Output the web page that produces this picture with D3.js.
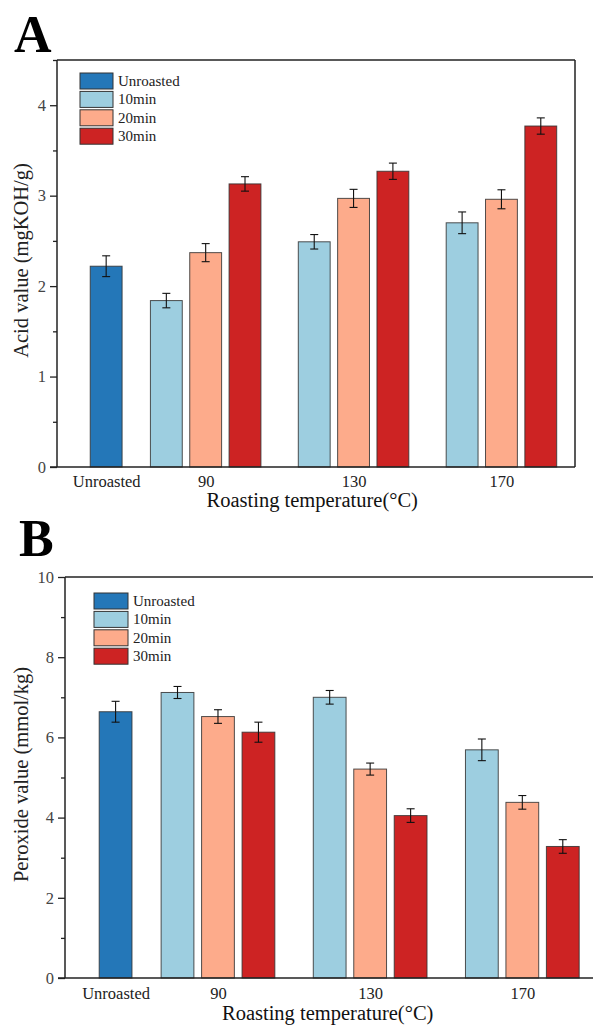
<!DOCTYPE html>
<html>
<head>
<meta charset="utf-8">
<script src="https://cdn.jsdelivr.net/npm/d3@7"></script>
<style>
  body { margin: 0; background: #fff; }
  svg { display: block; font-family: "Liberation Serif", "Times New Roman", serif; }
</style>
</head>
<body>
<div id="chart"></div>
<script>
// categories
const temps = ["90", "130", "170"];
const times = ["10min", "20min", "30min"];
const legendLabels = ["Unroasted", "10min", "20min", "30min"];
const colors = ["#2477b8", "#9dcee0", "#fdab8b", "#cd2323"];

// panel A - acid value, rows = temps, cols = times
const acidUnroasted = [2.22, 0.115];
const acidMeans = [[1.84, 2.37, 3.13], [2.49, 2.97, 3.27], [2.70, 2.96, 3.77]];
const acidErrs = [[0.08, 0.10, 0.08], [0.08, 0.10, 0.09], [0.12, 0.105, 0.09]];
const acidTicks = [0, 1, 2, 3, 4];

// panel B - peroxide value
const peroxUnroasted = [6.64, 0.26];
const peroxMeans = [[7.12, 6.52, 6.13], [7.00, 5.21, 4.05], [5.69, 4.38, 3.28]];
const peroxErrs = [[0.15, 0.17, 0.25], [0.17, 0.15, 0.17], [0.27, 0.17, 0.17]];
const peroxTicks = [0, 2, 4, 6, 8, 10];

const W = 593, H = 1026;
const svg = d3.select("#chart").append("svg").attr("width", W).attr("height", H);

// slot layout: unroasted at 0, then groups of 3 with gaps
const gapFirst = 0.53, gapGroup = 0.76;
function slotOf(i, j) { return 1 + gapFirst + i * (3 + gapGroup) + j; }

function drawPanel(opts) {
  const {
    left, top, width, height, yMax, ticks, minorStep, unroasted, means, errs,
    yLabel, letter, letterPos, legendPos, rightBorder, tickLabelY, titleY
  } = opts;

  const lastSlot = slotOf(temps.length - 1, times.length - 1);
  const x = d3.scaleLinear().domain([-1.25, lastSlot + 0.87]).range([0, width]);
  const y = d3.scaleLinear().domain([0, yMax]).range([height, 0]);
  const slot = x(1) - x(0);
  const bw = slot * 0.81;

  const g = svg.append("g").attr("transform", `translate(${left},${top})`);

  const bars = [{ s: 0, v: unroasted[0], e: unroasted[1], c: colors[0] }];
  temps.forEach((t, i) => times.forEach((m, j) => {
    bars.push({ s: slotOf(i, j), v: means[i][j], e: errs[i][j], c: colors[j + 1] });
  }));

  g.selectAll(".bar").data(bars).join("rect")
    .attr("class", "bar")
    .attr("x", d => x(d.s) - bw / 2)
    .attr("y", d => y(d.v))
    .attr("width", bw)
    .attr("height", d => y(0) - y(d.v))
    .attr("fill", d => d.c)
    .attr("stroke", "#333")
    .attr("stroke-opacity", 0.85)
    .attr("stroke-width", 1);

  // error bars
  const cap = 4;
  const eb = g.selectAll(".err").data(bars).join("g").attr("class", "err")
    .attr("stroke", "#111").attr("stroke-width", 1.1);
  eb.append("line")
    .attr("x1", d => x(d.s)).attr("x2", d => x(d.s))
    .attr("y1", d => y(d.v + d.e)).attr("y2", d => y(d.v - d.e));
  eb.append("line")
    .attr("x1", d => x(d.s) - cap).attr("x2", d => x(d.s) + cap)
    .attr("y1", d => y(d.v + d.e)).attr("y2", d => y(d.v + d.e));
  eb.append("line")
    .attr("x1", d => x(d.s) - cap).attr("x2", d => x(d.s) + cap)
    .attr("y1", d => y(d.v - d.e)).attr("y2", d => y(d.v - d.e));

  // frame
  g.append("line").attr("x1", 0).attr("x2", width).attr("y1", 0).attr("y2", 0)
    .attr("stroke", "#222").attr("stroke-width", 1.5);
  if (rightBorder) {
    g.append("line").attr("x1", width).attr("x2", width).attr("y1", 0).attr("y2", height)
      .attr("stroke", "#222").attr("stroke-width", 1.5);
  }

  // y axis: minor ticks then major
  const minor = d3.range(0, yMax + 1e-9, minorStep).filter(v => !ticks.includes(v));
  g.append("g")
    .call(d3.axisLeft(y).tickValues(minor).tickSize(4).tickFormat(""))
    .call(a => a.select(".domain").remove())
    .selectAll("line").attr("stroke", "#222").attr("stroke-width", 1.3);
  const ya = g.append("g")
    .call(d3.axisLeft(y).tickValues(ticks).tickSize(7).tickPadding(4).tickFormat(d3.format("d")));
  ya.select(".domain").attr("stroke", "#222").attr("stroke-width", 1.5)
    .attr("d", `M0,0V${height}`);
  ya.selectAll(".tick line").attr("stroke", "#222").attr("stroke-width", 1.3);
  ya.selectAll(".tick text").attr("fill", "#444")
    .style("font-family", "Liberation Serif").style("font-size", "16.5px");

  // x axis
  const xTickSlots = [0].concat(temps.map((t, i) => slotOf(i, 1)));
  const xLabels = ["Unroasted"].concat(temps);
  const xa = g.append("g").attr("transform", `translate(0,${height})`)
    .call(d3.axisBottom(x).tickValues(xTickSlots).tickSize(0).tickPadding(tickLabelY)
      .tickFormat((d, i) => xLabels[i]));
  xa.select(".domain").attr("stroke", "#222").attr("stroke-width", 1.5)
    .attr("d", `M-7,0H${width}`);
  xa.selectAll(".tick text").attr("fill", "#222")
    .style("font-family", "Liberation Serif").style("font-size", "16.5px");

  // axis titles
  svg.append("text")
    .attr("transform", `translate(28,${top + height / 2 - 3}) rotate(-90)`)
    .attr("text-anchor", "middle")
    .attr("fill", "#222")
    .style("font-size", "20.5px")
    .text(yLabel);

  svg.append("text")
    .attr("x", left + x(slotOf(1, 0)) - 2)
    .attr("y", top + height + titleY)
    .attr("text-anchor", "middle")
    .attr("fill", "#111")
    .style("font-size", "20.5px")
    .text("Roasting temperature(°C)");

  // panel letter
  svg.append("text")
    .attr("x", letterPos[0]).attr("y", letterPos[1])
    .style("font-size", "52px").style("font-weight", "bold")
    .attr("fill", "#000")
    .text(letter);

  // legend
  const lg = g.append("g").attr("transform", `translate(${legendPos[0]},${legendPos[1]})`);
  const item = lg.selectAll(".item").data(legendLabels).join("g")
    .attr("transform", (d, i) => `translate(0,${i * 18.4})`);
  item.append("rect")
    .attr("width", legendPos[2]).attr("height", 16)
    .attr("fill", (d, i) => colors[i])
    .attr("stroke", "#333").attr("stroke-width", 1);
  item.append("text")
    .attr("x", legendPos[2] + 5).attr("y", 13)
    .attr("fill", "#222")
    .style("font-size", "15px")
    .text(d => d);
}

drawPanel({
  left: 57, top: 60, width: 518, height: 407, yMax: 4.5,
  ticks: acidTicks, minorStep: 0.5,
  unroasted: acidUnroasted, means: acidMeans, errs: acidErrs,
  yLabel: "Acid value (mgKOH/g)", letter: "A", letterPos: [14, 52],
  legendPos: [23, 13, 33], rightBorder: true, tickLabelY: 8, titleY: 40
});

drawPanel({
  left: 65, top: 577, width: 533, height: 401, yMax: 10,
  ticks: peroxTicks, minorStep: 1,
  unroasted: peroxUnroasted, means: peroxMeans, errs: peroxErrs,
  yLabel: "Peroxide value (mmol/kg)", letter: "B", letterPos: [19, 556],
  legendPos: [29, 16, 34], rightBorder: true, tickLabelY: 9, titleY: 42
});
</script>
</body>
</html>
